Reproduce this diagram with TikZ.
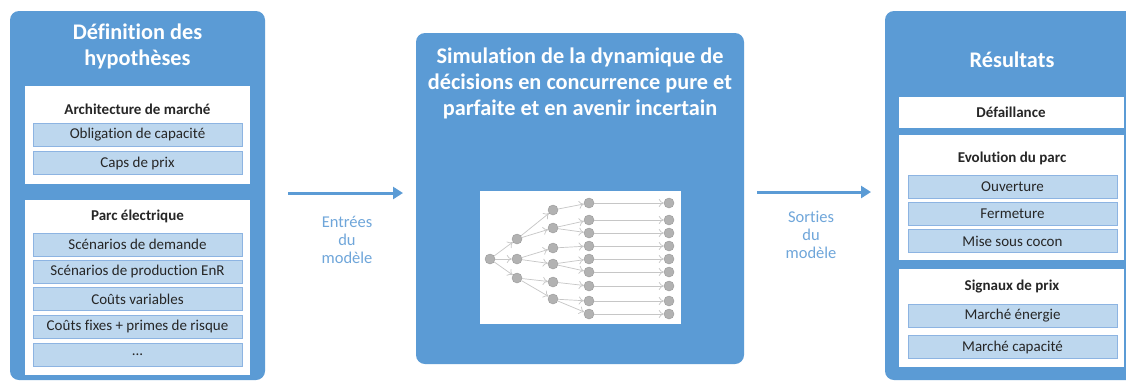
\documentclass[tikz,border=0pt]{standalone}
\usepackage{fontspec}
\setmainfont{Carlito}[Ligatures=NoCommon]
\usepackage{tikz}
\usetikzlibrary{arrows.meta}

\definecolor{panelblue}{HTML}{5B9BD5}
\definecolor{itemfill}{HTML}{BDD7EE}
\definecolor{itemline}{HTML}{8DB4E2}
\definecolor{labelblue}{HTML}{6FA6DA}
\definecolor{textdark}{HTML}{262626}

\tikzset{
    panel/.style={shape=rectangle,fill=panelblue,rounded corners=9pt,inner sep=0pt},
    paneltitle/.style={text=white,font=\fontsize{22.3}{26}\selectfont\bfseries,align=center},
    whitebox/.style={shape=rectangle,fill=white,inner sep=0pt,minimum width=225pt},
    subtitle/.style={text=textdark,font=\fontsize{15}{17}\selectfont\bfseries},
    itembox/.style={shape=rectangle,fill=itemfill,draw=itemline,line width=1pt,inner sep=0pt,
        minimum width=209pt,minimum height=23pt,text=textdark,font=\fontsize{15}{17}\selectfont},
    flowlabel/.style={text=labelblue,font=\fontsize{16.5}{18}\selectfont,align=center},
    flowarrow/.style={draw=panelblue,line width=3pt,-{Triangle[length=10pt,width=12pt]}},
    treenode/.style={shape=circle,fill=gray!60,draw=gray!80,minimum size=10pt,inner sep=0pt},
    treeedge/.style={draw=gray!45,line width=0.7pt,-{To[length=5pt,width=8pt]}}
}

\begin{document}
\begin{tikzpicture}[x=1pt,y=-1pt]
        \clip (0,0) rectangle (1126,381);
        \fill[white] (0,0) rectangle (1126,381);

        % hypotheses
        \node[panel,minimum width=255pt,minimum height=369pt] (Lpanel) at (137.5,195.5) {};
        \node[paneltitle] (Ltitle) at (137.5,46) {Définition des\\hypothèses};
        \node[whitebox,minimum height=98pt]  (Lbox1) at (137,135) {};
        \node[subtitle] (Lsub1) at (137.5,109) {Architecture de marché};
        \node[itembox] (Lobl)  at (137.5,135) {Obligation de capacité};
        \node[itembox] (Lcaps) at (137.5,163) {Caps de prix};
        \node[whitebox,minimum height=175pt] (Lbox2) at (137,287.5) {};
        \node[subtitle] (Lsub2) at (137.5,216) {Parc électrique};
        \node[itembox] (Ldem)  at (137.5,244.5) {Scénarios de demande};
        \node[itembox] (Lenr)  at (137.5,271.5) {Scénarios de production EnR};
        \node[itembox] (Lvar)  at (137.5,299) {Coûts variables};
        \node[itembox] (Lfix)  at (137.5,326.5) {Coûts fixes + primes de risque};
        \node[itembox] (Letc)  at (137.5,354.5) {...};

        % simulation
        \node[panel,minimum width=328pt,minimum height=331pt] (Mpanel) at (580,198.5) {};
        \node[paneltitle] (Mtitle) at (580,83) {Simulation de la dynamique de\\décisions en concurrence pure et\\parfaite et en avenir incertain};
        \node[shape=rectangle,fill=white,minimum width=201pt,minimum height=133pt,inner sep=0pt] (Mtree) at (580.5,257.5) {};

        \node[treenode] (r)  at (490,259) {};
        \node[treenode] (a1) at (517,239) {};
        \node[treenode] (a2) at (517,259) {};
        \node[treenode] (a3) at (517,278) {};
        \node[treenode] (b1) at (553,210) {};
        \node[treenode] (b2) at (553,228) {};
        \node[treenode] (b3) at (553,248) {};
        \node[treenode] (b4) at (553,264) {};
        \node[treenode] (b5) at (553,282) {};
        \node[treenode] (b6) at (553,299) {};
        \node[treenode] (c1) at (589,203) {};
        \node[treenode] (c2) at (589,220) {};
        \node[treenode] (c3) at (589,233) {};
        \node[treenode] (c4) at (589,246) {};
        \node[treenode] (c5) at (589,259) {};
        \node[treenode] (c6) at (589,272) {};
        \node[treenode] (c7) at (589,286) {};
        \node[treenode] (c8) at (589,301) {};
        \node[treenode] (c9) at (589,314) {};
        \node[treenode] (d1) at (669,203) {};
        \node[treenode] (d2) at (669,220) {};
        \node[treenode] (d3) at (669,233) {};
        \node[treenode] (d4) at (669,246) {};
        \node[treenode] (d5) at (669,259) {};
        \node[treenode] (d6) at (669,272) {};
        \node[treenode] (d7) at (669,286) {};
        \node[treenode] (d8) at (669,301) {};
        \node[treenode] (d9) at (669,314) {};

        \path [treeedge](r) edge (a1);
        \path [treeedge](r) edge (a2);
        \path [treeedge](r) edge (a3);
        \path [treeedge](a1) edge (b1);
        \path [treeedge](a1) edge (b2);
        \path [treeedge](a2) edge (b3);
        \path [treeedge](a2) edge (b4);
        \path [treeedge](a3) edge (b5);
        \path [treeedge](a3) edge (b6);
        \path [treeedge](b1) edge (c1);
        \path [treeedge](b2) edge (c2);
        \path [treeedge](b2) edge (c3);
        \path [treeedge](b3) edge (c4);
        \path [treeedge](b4) edge (c5);
        \path [treeedge](b4) edge (c6);
        \path [treeedge](b5) edge (c7);
        \path [treeedge](b6) edge (c8);
        \path [treeedge](b6) edge (c9);
        \path [treeedge](c1) edge (d1);
        \path [treeedge](c2) edge (d2);
        \path [treeedge](c3) edge (d3);
        \path [treeedge](c4) edge (d4);
        \path [treeedge](c5) edge (d5);
        \path [treeedge](c6) edge (d6);
        \path [treeedge](c7) edge (d7);
        \path [treeedge](c8) edge (d8);
        \path [treeedge](c9) edge (d9);

        % results
        \node[panel,minimum width=255pt,minimum height=369pt] (Rpanel) at (1012.5,195.5) {};
        \node[paneltitle] (Rtitle) at (1012,60) {Résultats};
        \node[whitebox,minimum height=31pt,subtitle] (Rdef) at (1011,112.5) {Défaillance};
        \node[whitebox,minimum height=125pt] (Rbox2) at (1011,197.5) {};
        \node[subtitle] (Rsub2) at (1012,158) {Evolution du parc};
        \node[itembox] (Rouv) at (1012.5,187) {Ouverture};
        \node[itembox] (Rfer) at (1012.5,213.5) {Fermeture};
        \node[itembox] (Rcoc) at (1012.5,241) {Mise sous cocon};
        \node[whitebox,minimum height=98pt] (Rbox3) at (1011,318) {};
        \node[subtitle] (Rsub3) at (1012,287) {Signaux de prix};
        \node[itembox] (Rene) at (1012.5,315.5) {Marché énergie};
        \node[itembox] (Rcap) at (1012.5,347) {Marché capacité};

        % flows
        \coordinate (inA)  at (288,193);
        \coordinate (inB)  at (403,193);
        \coordinate (outA) at (757,192);
        \coordinate (outB) at (871,192);
        \draw[flowarrow] (inA) -- (inB);
        \draw[flowarrow] (outA) -- (outB);
        \node[flowlabel] (inlab)  at (347,240) {Entrées\\du\\modèle};
        \node[flowlabel] (outlab) at (811,235) {Sorties\\du\\modèle};
    \end{tikzpicture}
\end{document}
